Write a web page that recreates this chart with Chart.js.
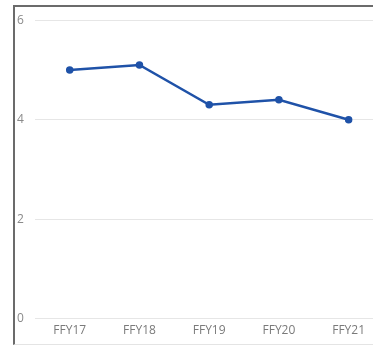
<!DOCTYPE html>
<html>
<head>
<meta charset="utf-8">
<script src="https://cdn.jsdelivr.net/npm/chart.js@4"></script>
<style>
  html, body { margin: 0; padding: 0; background: #fff; overflow: hidden; }
  #frame {
    position: absolute;
    left: 13px;
    top: 5px;
    width: 380px;
    height: 337px;
    border-left: 2px solid #6b6b6b;
    border-top: 2px solid #6b6b6b;
    border-bottom: 1px solid #e4e4e4;
    overflow: hidden;
  }
  #wrap { position: absolute; left: -11px; top: -5px; width: 385px; height: 335px; }
</style>
</head>
<body>
<div id="frame"><div id="wrap"><canvas id="lineChart"></canvas></div></div>
<script>
const categories = ['FFY17', 'FFY18', 'FFY19', 'FFY20', 'FFY21'];
const seriesValues = [5.0, 5.1, 4.3, 4.4, 4.0];
const yTicks = [0, 2, 4, 6];

const ctx = document.getElementById('lineChart').getContext('2d');
new Chart(ctx, {
    type: 'line',
    data: {
        labels: categories,
        datasets: [{
            data: seriesValues,
            borderColor: '#1f52a8',
            backgroundColor: '#1f52a8',
            borderWidth: 2.5,
            pointRadius: 2.5,
            pointHoverRadius: 3,
            tension: 0,
            fill: false
        }]
    },
    options: {
        responsive: true,
        maintainAspectRatio: false,
        animation: false,
        layout: { padding: { left: 2, top: 3, right: 0, bottom: 0 } },
        plugins: {
            legend: { display: false },
            tooltip: { enabled: false }
        },
        scales: {
            x: {
                offset: true,
                grid: { display: false },
                border: { display: false },
                ticks: {
                    color: '#7a7a7a',
                    padding: -3,
                    font: { family: 'Open Sans', size: 12 }
                }
            },
            y: {
                min: 0,
                max: 6,
                afterBuildTicks: axis => { axis.ticks = yTicks.map(v => ({ value: v })); },
                grid: { color: '#e6e6e6', drawTicks: false, lineWidth: 1 },
                border: { display: false },
                ticks: {
                    color: '#8a8a8a',
                    padding: 11,
                    font: { family: 'Open Sans', size: 12 }
                }
            }
        }
    }
});
</script>
</body>
</html>
